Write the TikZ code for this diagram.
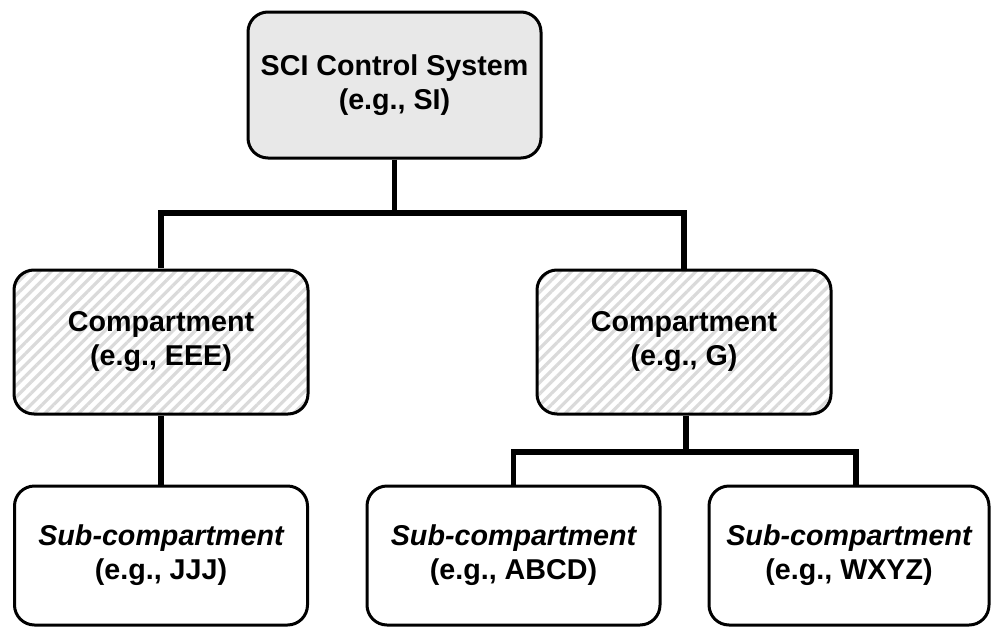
\documentclass[tikz,border=0pt]{standalone}
\usepackage{fontspec}
\setmainfont{Liberation Sans}
\usetikzlibrary{patterns.meta}
\definecolor{topfill}{HTML}{E8E8E8}
\definecolor{hatchcol}{HTML}{DADADA}
\tikzset{
  box/.style={draw=black, line width=2.25pt, rounded corners=15pt, align=center,
    font=\fontsize{21.5}{25.5}\selectfont\bfseries, inner sep=0pt},
  topbox/.style={box, fill=topfill, minimum width=219.75pt, minimum height=109.5pt},
  compbox/.style={box, preaction={fill=white},
    pattern={Lines[angle=45,distance=6pt,line width=2.4pt]}, pattern color=hatchcol,
    minimum width=220.5pt, minimum height=108pt},
  subbox/.style={box, fill=white, minimum height=104.25pt},
  conn/.style={draw=black, line width=4pt, line join=miter}
}
\begin{document}
\begin{tikzpicture}[x=0.75pt,y=-0.75pt]
\useasboundingbox (0,0) rectangle (992,628);
\node[topbox] (top) at (394.5,85) {SCI Control System\\(e.g., SI)};
\node[compbox] (cL) at (161,342) {Compartment\\(e.g., EEE)};
\node[compbox] (cR) at (684,342) {Compartment\\(e.g., G)};
\node[subbox, minimum width=219.75pt] (sL) at (161,555.5) {\itshape Sub-compartment\\(e.g., JJJ)};
\node[subbox, minimum width=219.75pt] (sM) at (513.5,555.5) {\itshape Sub-compartment\\(e.g., ABCD)};
\node[subbox, minimum width=210pt] (sR) at (849,555.5) {\itshape Sub-compartment\\(e.g., WXYZ)};
\coordinate (j1) at (394.5,213);
\coordinate (j2) at (686,452);
\coordinate (jR) at (856,486);
\draw[conn] (top.south) -- (j1);
\draw[conn] (cL.north) -- (cL.north |- j1) -- (cR.north |- j1) -- (cR.north);
\draw[conn] (cL.south) -- (sL.north);
\draw[conn] (cR.south -| j2) -- (j2);
\draw[conn] (sM.north) -- (sM.north |- j2) -- (jR |- j2) -- (jR);
\end{tikzpicture}
\end{document}
